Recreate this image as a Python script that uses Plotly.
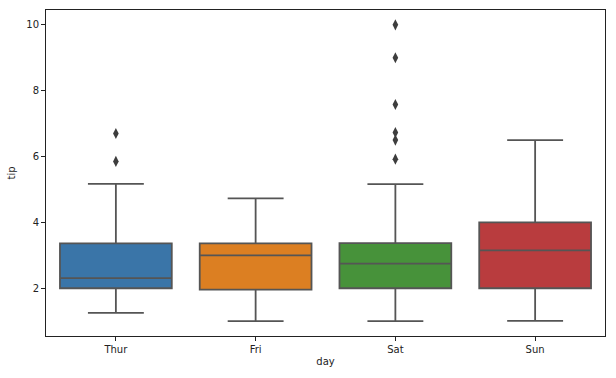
import plotly.graph_objects as go

days = ["Thur", "Fri", "Sat", "Sun"]
q1 = [2.0, 1.96, 2.0, 2.0]
median = [2.305, 3.0, 2.75, 3.15]
q3 = [3.3625, 3.365, 3.37, 4.0]
lower = [1.25, 1.0, 1.0, 1.01]
upper = [5.17, 4.73, 5.16, 6.5]
outliers = {
    "Thur": [5.85, 6.7],
    "Fri": [],
    "Sat": [5.92, 6.5, 6.73, 7.58, 9.0, 10.0],
    "Sun": [],
}
colors = ["#3a75a8", "#dc7f22", "#47923a", "#b93c3e"]
yticks = [2, 4, 6, 8, 10]

edge = "#555555"
fig = go.Figure()
for i, d in enumerate(days):
    fig.add_trace(go.Box(
        x=[d], q1=[q1[i]], median=[median[i]], q3=[q3[i]],
        lowerfence=[lower[i]], upperfence=[upper[i]],
        fillcolor=colors[i], line=dict(color=edge, width=1.8),
        whiskerwidth=0.5, width=0.8, boxpoints=False, showlegend=False,
        hoverinfo="skip",
    ))
    if outliers[d]:
        fig.add_trace(go.Scatter(
            x=[d] * len(outliers[d]), y=outliers[d], mode="markers",
            marker=dict(symbol="diamond-tall", size=8, color="#3d3d3d"),
            showlegend=False, hoverinfo="skip",
        ))

axis_common = dict(showline=True, linecolor="#222", linewidth=1, mirror=True,
                   ticks="outside", ticklen=4, tickcolor="#222",
                   showgrid=False, zeroline=False, automargin=False,
                   tickfont=dict(family="DejaVu Sans", size=10, color="#222"))
fig.update_layout(
    width=616, height=378,
    margin=dict(l=46, r=11, t=10, b=42),
    plot_bgcolor="white", paper_bgcolor="white",
    boxmode="overlay",
    font=dict(family="DejaVu Sans", size=10, color="#222"),
    xaxis=dict(title=dict(text="day", standoff=3, font=dict(size=10)),
               categoryorder="array", categoryarray=days,
               range=[-0.5, 3.5], **axis_common),
    yaxis=dict(title=dict(text="tip", standoff=8, font=dict(size=10)),
               range=[0.55, 10.45], tickvals=yticks, **axis_common),
)
fig.write_html("out.html", config={"displayModeBar": False},
               post_script="document.body.style.margin='0';document.body.style.overflow='hidden';")
